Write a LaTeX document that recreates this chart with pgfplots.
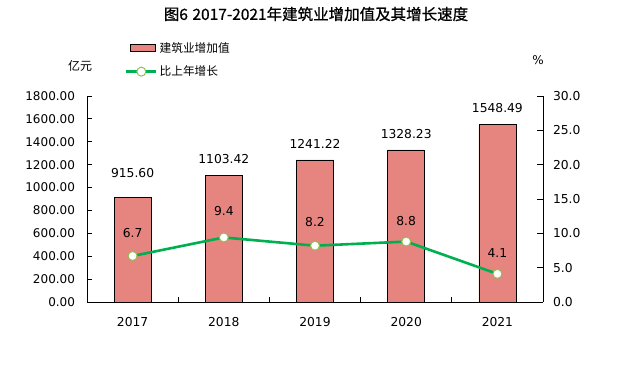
\documentclass[border=0pt]{standalone}
\usepackage{pgfplots}
\pgfplotsset{compat=1.18}
\usepackage{fontspec}
\setmainfont{DejaVu Sans}
\newfontfamily\cjk{Noto Sans CJK SC}
\newfontfamily\cjkt[FakeBold=0.8]{Noto Sans CJK SC}
\definecolor{barred}{RGB}{230,132,128}
\definecolor{lgreen}{RGB}{0,176,80}
\definecolor{medge}{RGB}{146,190,80}
\newcommand{\fs}[1]{\fontsize{#1bp}{#1bp}\selectfont}
\pgfplotsset{
  barlegend/.style={legend image code/.code={\draw[##1] (4bp,-3.5bp) rectangle (29bp,3.5bp);}},
  linelegend/.style={legend image code/.code={\draw[mark repeat=2,mark phase=2,##1] plot coordinates {(0bp,0bp) (15bp,0bp) (30bp,0bp)};}}
}
\begin{document}
\begin{tikzpicture}[x=1bp,y=1bp]
\useasboundingbox (-87,-74) rectangle (538,302);
\begin{axis}[at={(0,0)},anchor=south west, scale only axis, width=456bp, height=206bp,
  xmin=-0.5, xmax=4.5, ymin=0, ymax=1800, ytick distance=200,
  axis x line=bottom, axis y line=left, axis line style={-, line width=0.8pt},
  tick align=inside, major tick length=5bp, minor tick length=5bp,
  tick style={black, line width=0.8pt},
  xtick={0,1,2,3,4}, xticklabels={2017,2018,2019,2020,2021},
  major x tick style={draw=none},
  minor xtick={0.5,1.5,2.5,3.5},
  xticklabel style={font=\fs{12.3}, yshift=-12bp},
  yticklabel style={font=\fs{12}, xshift=-8.5bp},
  /pgf/number format/assume math mode=true,
  yticklabel={\pgfmathprintnumber[fixed,fixed zerofill,precision=2,1000 sep={}]{\tick}},
  scaled y ticks=false,
  clip=false]
\addplot[ybar, bar width=37bp, fill=barred, draw=black, line width=0.8pt]
  coordinates {(0,915.60) (1,1103.42) (2,1241.22) (3,1328.23) (4,1548.49)};
\node[font=\fs{12.3}] at (axis cs:0,915.60) [yshift=24bp] {915.60};
\node[font=\fs{12.3}] at (axis cs:1,1103.42) [yshift=17bp] {1103.42};
\node[font=\fs{12.3}] at (axis cs:2,1241.22) [yshift=16bp] {1241.22};
\node[font=\fs{12.3}] at (axis cs:3,1328.23) [yshift=16bp] {1328.23};
\node[font=\fs{12.3}] at (axis cs:4,1548.49) [yshift=17bp] {1548.49};
\end{axis}
\begin{axis}[at={(0,0)},anchor=south west, scale only axis, width=456bp, height=206bp,
  xmin=-0.5, xmax=4.5, ymin=0, ymax=30, ytick distance=5,
  axis x line=none, axis y line=right, axis line style={-, line width=0.8pt},
  tick align=inside, major tick length=6bp,
  tick style={black, line width=0.8pt},
  yticklabel style={font=\fs{12.3}, xshift=6.5bp},
  /pgf/number format/assume math mode=true,
  yticklabel={\pgfmathprintnumber[fixed,fixed zerofill,precision=1]{\tick}},
  legend style={at={(rel axis cs:0.083,1.27)}, anchor=north west, draw=none, fill=none,
    font=\fs{11.7}\cjk, row sep=8bp, inner sep=0pt, cells={anchor=west}},
  clip=false]
\addlegendimage{fill=barred, draw=black, line width=0.8pt, barlegend}
\addlegendentry{建筑业增加值}
\addplot[lgreen, line width=2.6bp, mark=*, mark size=4.5bp,
  mark options={fill=white, draw=medge, line width=1bp}, linelegend]
  coordinates {(0,6.7) (1,9.4) (2,8.2) (3,8.8) (4,4.1)};
\addlegendentry{比上年增长}
\node[font=\fs{12.3}] at (axis cs:0,6.7) [yshift=23bp] {6.7};
\node[font=\fs{12.3}] at (axis cs:1,9.4) [yshift=26bp] {9.4};
\node[font=\fs{12.3}] at (axis cs:2,8.2) [yshift=24bp] {8.2};
\node[font=\fs{12.3}] at (axis cs:3,8.8) [yshift=21bp] {8.8};
\node[font=\fs{12.3}] at (axis cs:4,4.1) [yshift=21bp] {4.1};
\end{axis}
\node[font=\fs{15.5}\cjkt] at (229,288) {图6\hspace{4.5bp}2017-2021年建筑业增加值及其增长速度};
\node[font=\fs{12}\cjk] at (-7,236.5) {亿元};
\node[font=\fs{12}] at (451,241.5) {\%};
\end{tikzpicture}
\end{document}
